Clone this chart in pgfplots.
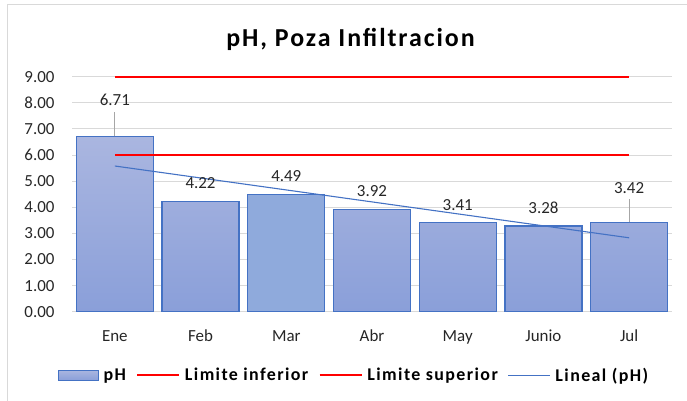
\documentclass[border=0pt]{standalone}
\usepackage{pgfplots}
\pgfplotsset{compat=1.18}
\usepackage{pgfplotstable}
\usepackage{fontspec}
\setmainfont{Carlito}
\newfontfamily\wideb[LetterSpace=7.8]{Carlito}
\newfontfamily\titlef[LetterSpace=7.5]{Carlito}
\definecolor{barTop}{HTML}{AAB6E0}
\definecolor{barBot}{HTML}{8A9FD9}
\definecolor{barMar}{HTML}{8FAADC}
\definecolor{barEdge}{HTML}{4472C4}
\definecolor{gridc}{HTML}{D9D9D9}
\definecolor{leader}{HTML}{A6A6A6}
\definecolor{txt}{HTML}{262626}

\pgfplotsset{
  barleg/.style={legend image code/.code={\draw[##1] (0bp,-5bp) rectangle (40bp,5bp);}},
  lineleg/.style={legend image code/.code={\draw[##1] (0bp,0bp) -- (42bp,0bp);}},
  redleg/.style={legend image code/.code={\draw[##1, line width=2.6bp] (0bp,0bp) -- (42bp,0bp);}},
}

\pgfplotstableread{
x y off
0 6.71 36.6
1 4.22 18
2 4.49 18
3 3.92 18
4 3.41 18
5 3.28 18
6 3.42 34
}\phdata

\begin{document}
\begin{tikzpicture}
\useasboundingbox (0bp,0bp) rectangle (687bp,401bp);
\draw[gridc, line width=1bp] (7bp,-5bp) rectangle (695bp,396bp);
\begin{axis}[
  at={(72bp,89.3bp)}, anchor=south west,
  scale only axis, width=600bp, height=235bp,
  xmin=-0.5, xmax=6.5, ymin=0, ymax=9,
  clip=false,
  ytick={0,1,2,3,4,5,6,7,8,9},
  xtick={0,1,2,3,4,5,6},
  xticklabels={Ene,Feb,Mar,Abr,May,Junio,Jul},
  /pgf/number format/.cd, fixed, fixed zerofill, precision=2, assume math mode=true,
  /pgfplots/.cd,
  ymajorgrids, grid style={gridc, line width=1bp},
  axis line style={draw=none},
  tick style={draw=none},
  major tick length=0pt,
  tick label style={font=\fontsize{17}{20}\selectfont, text=txt},
  yticklabel style={anchor=east, xshift=-14bp},
  xticklabel style={anchor=north, yshift=-15bp},
  legend columns=4,
  legend style={draw=none, fill=none, at={(0.47,-0.27)}, anchor=center,
    font=\wideb\bfseries\fontsize{18}{21}\selectfont, text=black,
    /tikz/every odd column/.append style={column sep=2.5bp},
    /tikz/every even column/.append style={column sep=8bp}},
]
\addplot[ybar, bar width=77bp, bar shift=0pt, draw=barEdge, line width=1.2bp,
  top color=barTop, bottom color=barBot,
  point meta=y,
  nodes near coords={\pgfmathprintnumber[fixed,fixed zerofill,precision=2]{\pgfplotspointmeta}},
  visualization depends on={\thisrow{off}\as\myoff},
  every node near coord/.append style={anchor=center, yshift=\myoff bp, font=\fontsize{17}{20}\selectfont, text=txt},
  barleg
] table[x=x,y=y]{\phdata};
\addlegendentry{pH}
\addplot[ybar, bar width=77bp, bar shift=0pt, draw=barEdge, line width=1.2bp, fill=barMar, forget plot]
  coordinates {(2,4.49)};
\addplot[leader, line width=0.8bp, forget plot] coordinates {(0,6.71) (0,7.65)};
\addplot[leader, line width=0.8bp, forget plot] coordinates {(6,3.42) (6,4.32)};
\addplot[red, line width=2.6bp, redleg] coordinates {(0,6) (6,6)};
\addlegendentry{Limite inferior}
\addplot[red, line width=1.8bp, redleg] coordinates {(0,9) (6,9)};
\addlegendentry{Limite superior}
\addplot[barEdge, line width=1.1bp, lineleg] coordinates {(0,5.58) (6,2.83)};
\addlegendentry{Lineal (pH)}
\end{axis}
\node[font=\titlef\bfseries\fontsize{26}{30}\selectfont, anchor=base, text=black] at (350.5bp,354bp) {pH, Poza Infiltracion};
\end{tikzpicture}
\end{document}
